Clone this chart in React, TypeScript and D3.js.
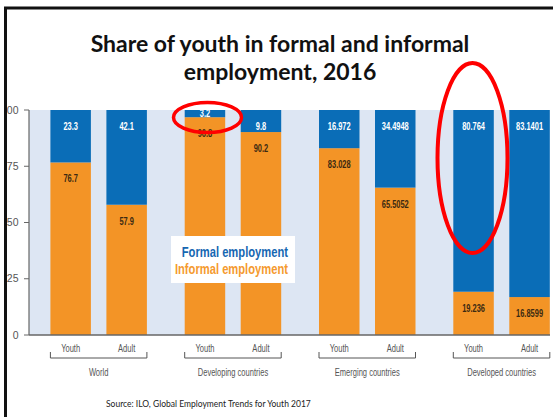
import React from "react";
import * as d3 from "d3";

const groups = ["World", "Developing countries", "Emerging countries", "Developed countries"];
const ages = ["Youth", "Adult"];
// formal (blue, top) and informal (orange, bottom) per group, [Youth, Adult]
const formal = [
  [23.3, 42.1],
  [3.2, 9.8],
  [16.972, 34.4948],
  [80.764, 83.1401],
];
const informal = [
  [76.7, 57.9],
  [96.8, 90.2],
  [83.028, 65.5052],
  [19.236, 16.8599],
];
const formalLabels = [
  ["23.3", "42.1"],
  ["3.2", "9.8"],
  ["16.972", "34.4948"],
  ["80.764", "83.1401"],
];
const informalLabels = [
  ["76.7", "57.9"],
  ["96.8", "90.2"],
  ["83.028", "65.5052"],
  ["19.236", "16.8599"],
];
const yTicks = [0, 25, 50, 75, 100];
const title = ["Share of youth in formal and informal", "employment, 2016"];
const legendItems = ["Formal employment", "Informal employment"];
const source = "Source: ILO, Global Employment Trends for Youth 2017";

const W = 553;
const H = 417;
const BLUE = "#0a6db7";
const ORANGE = "#f39426";
const BG = "#dde6f3";
const AXIS = "#666";

export default function App() {
  const plotLeft = 29;
  const plotRight = 550;
  const y = d3.scaleLinear().domain([0, 100]).range([335, 110]);
  const xg = d3.scaleBand().domain(groups).range([31.5, 568.7]).padding(0);
  const xi = d3
    .scaleBand()
    .domain(ages)
    .range([0, xg.bandwidth()])
    .paddingInner(0.277)
    .paddingOuter(0.3375);
  const bw = xi.bandwidth();
  const cond = "'Liberation Sans', Arial, sans-serif";

  return (
    <svg width={W} height={H} style={{ position: "absolute", left: 0, top: 0, background: "#fff" }}>
      <defs>
        <clipPath id="inner">
          <rect x={7} y={9.5} width={W} height={H} />
        </clipPath>
      </defs>
      <rect x={0} y={0} width={W} height={H} fill="#fff" />
      {/* title */}
      {title.map((t, i) => (
        <text
          key={t}
          x={280}
          y={51.7 + i * 28.3}
          textAnchor="middle"
          fontFamily="Lato, 'Open Sans', sans-serif"
          fontWeight={700}
          fontSize={23}
          fill="#111"
        >
          {t}
        </text>
      ))}
      {/* plot background */}
      <rect x={plotLeft} y={y(100)} width={plotRight - plotLeft} height={y(0) - y(100)} fill={BG} />
      {/* bars */}
      {groups.map((g, gi) =>
        ages.map((a, ai) => {
          const x0 = (xg(g) as number) + (xi(a) as number);
          const inf = informal[gi][ai];
          const fo = formal[gi][ai];
          const boundary = y(inf);
          const top = y(inf + fo);
          const cx = x0 + bw / 2;
          const blueH = boundary - top;
          const blueLabelY = blueH < 20 ? (top + boundary) / 2 + 3.5 : top + 19.5;
          return (
            <g key={g + a}>
              <rect x={x0} y={y(inf)} width={bw} height={y(0) - y(inf)} fill={ORANGE} />
              <rect x={x0} y={top} width={bw} height={blueH} fill={BLUE} />
              <text
                transform={`translate(${cx},${blueLabelY}) scale(0.68,1)`}
                textAnchor="middle"
                fontFamily={cond}
                fontWeight={700}
                fontSize={11}
                fill="#fff"
              >
                {formalLabels[gi][ai]}
              </text>
              <text
                transform={`translate(${cx},${boundary + 20}) scale(0.68,1)`}
                textAnchor="middle"
                fontFamily={cond}
                fontWeight={700}
                fontSize={11}
                fill="#3b2a12"
              >
                {informalLabels[gi][ai]}
              </text>
            </g>
          );
        })
      )}
      {/* y axis */}
      <line x1={plotLeft} x2={plotLeft} y1={y(100)} y2={y(0)} stroke={AXIS} strokeWidth={1.2} />
      <g clipPath="url(#inner)">
        {yTicks.map((t) => (
          <g key={t}>
            <line x1={plotLeft - 5} x2={plotLeft} y1={y(t)} y2={y(t)} stroke={AXIS} strokeWidth={1} />
            <text
              x={18.5}
              y={y(t) + 3.5}
              textAnchor="end"
              fontFamily={cond}
              fontSize={10.5}
              fill="#555"
            >
              {t}
            </text>
          </g>
        ))}
      </g>
      {/* x axis */}
      <line x1={plotLeft} x2={plotRight} y1={y(0)} y2={y(0)} stroke={AXIS} strokeWidth={1.5} />
      {groups.map((g) => {
        const gx = xg(g) as number;
        const xl = gx + (xi("Youth") as number);
        const xr = gx + (xi("Adult") as number) + bw;
        return (
          <g key={"ax" + g}>
            <path d={`M${xl},352 V358 H${xr} V352`} fill="none" stroke="#555" strokeWidth={1} />
            {ages.map((a) => (
              <text
                key={a}
                transform={`translate(${gx + (xi(a) as number) + bw / 2},351.5) scale(0.72,1)`}
                textAnchor="middle"
                fontFamily={cond}
                fontSize={10.5}
                fill="#555"
              >
                {a}
              </text>
            ))}
            <text
              transform={`translate(${gx + xg.bandwidth() / 2},375.5) scale(0.72,1)`}
              textAnchor="middle"
              fontFamily={cond}
              fontSize={10.5}
              fill="#555"
            >
              {g}
            </text>
          </g>
        );
      })}
      {/* legend */}
      <rect x={171} y={236} width={124} height={47} fill="#fff" />
      {legendItems.map((t, i) => (
        <text
          key={t}
          transform={`translate(288,${257 + i * 17}) scale(0.8,1)`}
          textAnchor="end"
          fontFamily={cond}
          fontWeight={700}
          fontSize={14}
          fill={i === 0 ? "#1667b2" : "#f59a2e"}
        >
          {t}
        </text>
      ))}
      {/* source */}
      <text x={106} y={407} fontFamily="Lato, sans-serif" fontSize={8.5} fill="#222">
        {source}
      </text>
      {/* annotations */}
      <ellipse cx={207.5} cy={117.5} rx={34} ry={15} fill="none" stroke="#f00" strokeWidth={3.5} />
      <ellipse cx={472.5} cy={158} rx={35} ry={95} fill="none" stroke="#f00" strokeWidth={4} />
      {/* frame */}
      <rect x={5.5} y={8} width={700} height={600} fill="none" stroke="#111" strokeWidth={3} />
    </svg>
  );
}
